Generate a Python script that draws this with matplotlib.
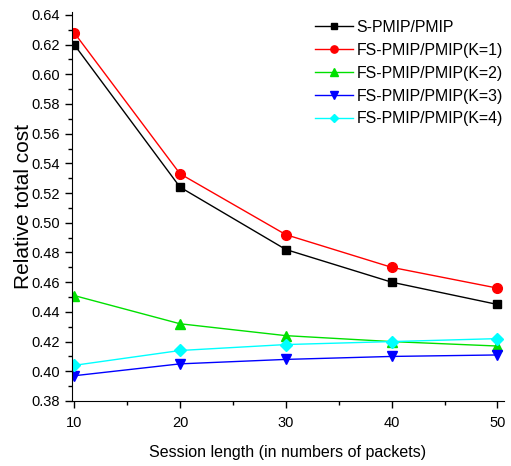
import matplotlib
matplotlib.use("Agg")
import matplotlib.pyplot as plt
from matplotlib.ticker import MultipleLocator, FormatStrFormatter

plt.rcParams['font.family'] = ['Liberation Sans', 'DejaVu Sans']

session_length = [10, 20, 30, 40, 50]
s_pmip = [0.620, 0.524, 0.482, 0.460, 0.445]
fs_k1 = [0.628, 0.533, 0.492, 0.470, 0.456]
fs_k2 = [0.451, 0.432, 0.424, 0.420, 0.417]
fs_k3 = [0.397, 0.405, 0.408, 0.410, 0.411]
fs_k4 = [0.404, 0.414, 0.418, 0.420, 0.422]

labels = ['S-PMIP/PMIP', 'FS-PMIP/PMIP(K=1)', 'FS-PMIP/PMIP(K=2)',
          'FS-PMIP/PMIP(K=3)', 'FS-PMIP/PMIP(K=4)']
series = [s_pmip, fs_k1, fs_k2, fs_k3, fs_k4]
colors = ['black', 'red', '#00e000', '#0000ff', '#00ffff']
markers = ['s', 'o', '^', 'v', 'D']
sizes = [6, 7, 7, 7, 6]

fig = plt.figure(figsize=(5.11, 4.66), dpi=100)
ax = fig.add_axes([0.141, 0.1395, 0.845, 0.835])

for y, lab, c, m, ms in zip(series, labels, colors, markers, sizes):
    ax.plot(session_length, y, color=c, marker=m, markersize=ms, linewidth=1,
            label=lab)

ax.set_xlim(9.8, 50.6)
ax.set_ylim(0.38, 0.642)
ax.xaxis.set_major_locator(MultipleLocator(10))
ax.xaxis.set_minor_locator(MultipleLocator(5))
ax.yaxis.set_major_locator(MultipleLocator(0.02))
ax.yaxis.set_minor_locator(MultipleLocator(0.01))
ax.yaxis.set_major_formatter(FormatStrFormatter('%.2f'))

for side in ('top', 'right'):
    ax.spines[side].set_visible(False)
ax.tick_params(which='major', direction='out', length=5, width=1, labelsize=10.5)
ax.tick_params(axis='x', which='major', pad=5.5)
ax.tick_params(which='minor', direction='out', length=3, width=1)

ax.set_xlabel('Session length (in numbers of packets)', fontsize=11.5,
              labelpad=11)
ax.set_ylabel('Relative total cost', fontsize=15, labelpad=-1)

ax.legend(loc='upper right', frameon=False, fontsize=11.4, handlelength=2.35,
          handletextpad=0.25, labelspacing=0.5, borderaxespad=0.1,
          markerscale=0.75, bbox_to_anchor=(1.016, 1.0))

fig.savefig('out.png', dpi=100)
